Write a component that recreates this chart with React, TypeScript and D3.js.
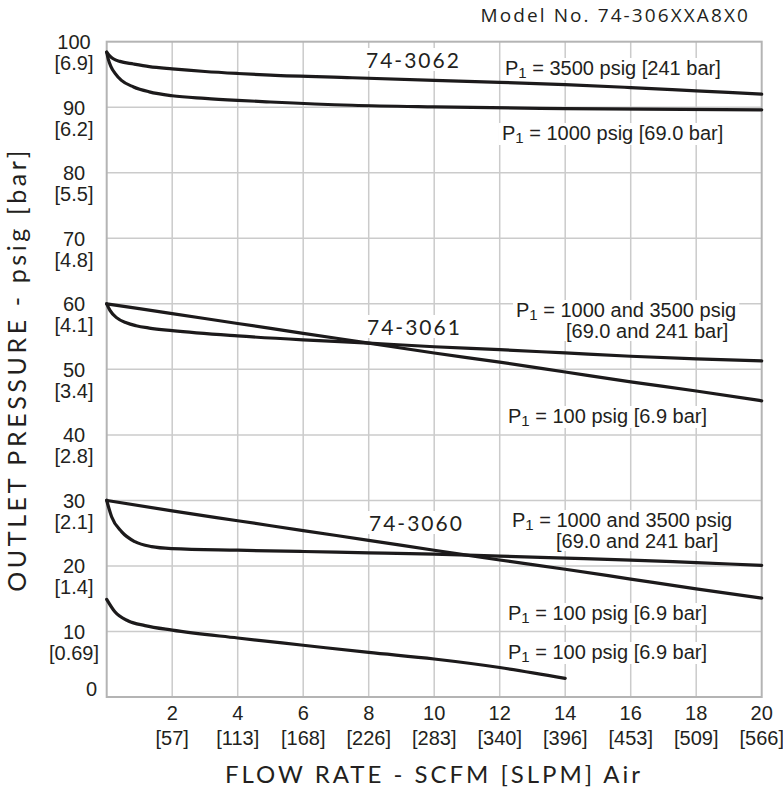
import React, { useEffect, useRef } from "react";
import * as d3 from "d3";

const W = 783;
const H = 799;

const xTicks = [2, 4, 6, 8, 10, 12, 14, 16, 18, 20];
const xTickSlpm = ["[57]", "[113]", "[168]", "[226]", "[283]", "[340]", "[396]", "[453]", "[509]", "[566]"];
const yTicks = [10, 20, 30, 40, 50, 60, 70, 80, 90, 100];
const yTickBar = ["[0.69]", "[1.4]", "[2.1]", "[2.8]", "[3.4]", "[4.1]", "[4.8]", "[5.5]", "[6.2]", "[6.9]"];

// 74-3062
const m3062P3500X = [0, 0.1, 0.2, 0.4, 0.82, 1.3, 2, 3, 4, 5, 7.5, 10, 12, 14, 16, 18, 20];
const m3062P3500Y = [98.4, 97.8, 97.4, 97.0, 96.6, 96.2, 95.85, 95.45, 95.15, 94.9, 94.5, 94.1, 93.8, 93.45, 93.0, 92.5, 92.0];
const m3062P1000X = [0, 0.05, 0.13, 0.25, 0.45, 0.82, 1.3, 2, 3, 4, 5, 7.5, 10, 14, 20];
const m3062P1000Y = [98.4, 97.3, 96.2, 95.2, 94.1, 93.1, 92.35, 91.75, 91.35, 91.05, 90.8, 90.3, 90.05, 89.8, 89.6];

// 74-3061
const m3061HighX = [0, 0.1, 0.3, 0.6, 0.9, 1.3, 2, 4, 6, 8, 10, 12, 14, 16, 18, 20];
const m3061HighY = [60, 59, 57.9, 57.1, 56.65, 56.3, 55.9, 55.1, 54.5, 54.0, 53.45, 53.0, 52.5, 52.0, 51.6, 51.3];
const m3061LowX = [0, 2, 4, 6, 8, 10, 12, 14, 16, 18, 20];
const m3061LowY = [60, 58.5, 57.0, 55.5, 54.0, 52.5, 51.1, 49.6, 48.1, 46.7, 45.2];

// 74-3060
const m3060HighX = [0, 0.15, 0.46, 0.86, 1.37, 2, 4, 6, 8, 10, 12, 14, 16, 18, 20];
const m3060HighY = [30, 27.5, 25.2, 23.7, 22.95, 22.65, 22.4, 22.2, 22.0, 21.8, 21.5, 21.2, 20.9, 20.5, 20.1];
const m3060LowX = [0, 2, 4, 6, 8, 10, 12, 14, 16, 18, 20];
const m3060LowY = [30, 28.4, 26.9, 25.4, 23.9, 22.4, 20.9, 19.5, 18.0, 16.5, 15.1];
const m3060BottomX = [0, 0.25, 0.66, 1.17, 2, 4, 6, 8, 10, 12, 14];
const m3060BottomY = [14.9, 13.0, 11.6, 10.9, 10.2, 9.0, 7.9, 6.8, 5.8, 4.5, 2.85];

const seriesX = [m3062P3500X, m3062P1000X, m3061HighX, m3061LowX, m3060HighX, m3060LowX, m3060BottomX];
const seriesY = [m3062P3500Y, m3062P1000Y, m3061HighY, m3061LowY, m3060HighY, m3060LowY, m3060BottomY];

const p1Labels: [string, number, number][] = [
  [" = 3500 psig [241 bar]", 505, 75],
  [" = 1000 psig [69.0 bar]", 502, 140],
  [" = 1000 and 3500 psig", 516, 317],
  [" = 100 psig [6.9 bar]", 508, 423],
  [" = 1000 and 3500 psig", 512, 527],
  [" = 100 psig [6.9 bar]", 508, 620],
  [" = 100 psig [6.9 bar]", 508, 659],
];
const barLabels: [string, number, number][] = [
  ["[69.0 and 241 bar]", 566, 338],
  ["[69.0 and 241 bar]", 556, 548],
];
const modelLabels: [string, number, number][] = [
  ["74-3062", 366, 68],
  ["74-3061", 367, 335],
  ["74-3060", 369, 531],
];

export default function App() {
  const ref = useRef<SVGSVGElement | null>(null);

  useEffect(() => {
    const svg = d3.select(ref.current);
    svg.selectAll("*").remove();

    const x = d3.scaleLinear().domain([0, 20]).range([106.7, 761.7]);
    const y = d3.scaleLinear().domain([0, 100]).range([697, 41.7]);

    const grid = svg.append("g");
    grid
      .selectAll("line.v")
      .data(xTicks.slice(0, -1))
      .join("line")
      .attr("x1", (d) => x(d))
      .attr("x2", (d) => x(d))
      .attr("y1", y(100))
      .attr("y2", y(0))
      .attr("stroke", "#cbcbcb")
      .attr("stroke-width", 1.5);
    grid
      .selectAll("line.h")
      .data(yTicks.slice(0, -1))
      .join("line")
      .attr("x1", x(0))
      .attr("x2", x(20))
      .attr("y1", (d) => y(d))
      .attr("y2", (d) => y(d))
      .attr("stroke", "#cbcbcb")
      .attr("stroke-width", 1.5);
    svg
      .append("rect")
      .attr("x", x(0))
      .attr("y", y(100))
      .attr("width", x(20) - x(0))
      .attr("height", y(0) - y(100))
      .attr("fill", "none")
      .attr("stroke", "#b4b4b4")
      .attr("stroke-width", 2);

    const labelFont = "'Liberation Sans', Arial, sans-serif";
    const titleFont = "Lato, 'Open Sans', sans-serif";

    const yl = svg.append("g").attr("font-family", labelFont).attr("font-size", 20).attr("fill", "#231f20").attr("text-anchor", "middle");
    yTicks.forEach((t, i) => {
      yl.append("text").attr("x", 74).attr("y", y(t) + 7.5).text(String(t));
      yl.append("text").attr("x", 74).attr("y", y(t) + 28.5).text(yTickBar[i]);
    });
    const xl = svg.append("g").attr("font-family", labelFont).attr("font-size", 20).attr("fill", "#231f20").attr("text-anchor", "middle");
    xl.append("text").attr("x", 91.5).attr("y", 696).text("0");
    xTicks.forEach((t, i) => {
      xl.append("text").attr("x", x(t)).attr("y", 720).text(String(t));
      xl.append("text").attr("x", x(t)).attr("y", 745).text(xTickSlpm[i]);
    });

    svg
      .append("text")
      .attr("x", 434)
      .attr("y", 783)
      .attr("text-anchor", "middle")
      .attr("font-family", titleFont)
      .attr("font-size", 24)
      .attr("letter-spacing", 3)
      .attr("fill", "#231f20")
      .text("FLOW RATE - SCFM [SLPM] Air");
    svg
      .append("text")
      .attr("transform", `translate(26,${(y(0) + y(100)) / 2}) rotate(-90)`)
      .attr("text-anchor", "middle")
      .attr("font-family", titleFont)
      .attr("font-size", 25)
      .attr("letter-spacing", 3.6)
      .attr("fill", "#231f20")
      .text("OUTLET PRESSURE - psig [bar]");
    svg
      .append("text")
      .attr("x", 750)
      .attr("y", 22)
      .attr("text-anchor", "end")
      .attr("font-family", "'Open Sans', sans-serif")
      .attr("font-size", 19)
      .attr("letter-spacing", 2.1)
      .attr("fill", "#231f20")
      .text("Model No. 74-306XXA8X0");

    const bgLayer = svg.append("g");
    const txtLayer = svg.append("g").attr("fill", "#231f20");
    const nodes: SVGTextElement[] = [];
    p1Labels.forEach(([rest, lx, ly]) => {
      const t = txtLayer.append("text").attr("x", lx).attr("y", ly).attr("font-family", labelFont).attr("font-size", 20);
      t.append("tspan").text("P");
      t.append("tspan").attr("font-size", 15).attr("dy", 3).text("1");
      t.append("tspan").attr("dy", -3).text(rest);
      nodes.push(t.node() as SVGTextElement);
    });
    barLabels.forEach(([s, lx, ly]) => {
      const t = txtLayer.append("text").attr("x", lx).attr("y", ly).attr("font-family", labelFont).attr("font-size", 20).text(s);
      nodes.push(t.node() as SVGTextElement);
    });
    modelLabels.forEach(([s, lx, ly]) => {
      const t = txtLayer
        .append("text")
        .attr("x", lx)
        .attr("y", ly)
        .attr("font-family", titleFont)
        .attr("font-size", 21)
        .attr("letter-spacing", 2)
        .text(s);
      nodes.push(t.node() as SVGTextElement);
    });
    nodes.forEach((n) => {
      const b = n.getBBox();
      bgLayer
        .append("rect")
        .attr("x", b.x - 3)
        .attr("y", b.y + 1)
        .attr("width", b.width + 6)
        .attr("height", b.height - 2)
        .attr("fill", "#fff");
    });

    const line = d3
      .line<[number, number]>()
      .x((d) => x(d[0]))
      .y((d) => y(d[1]))
      .curve(d3.curveMonotoneX);
    const cl = svg.append("g");
    seriesX.forEach((xs, i) => {
      const pts = xs.map((v, j) => [v, seriesY[i][j]] as [number, number]);
      cl.append("path")
        .attr("d", line(pts))
        .attr("fill", "none")
        .attr("stroke", "#1c1a1b")
        .attr("stroke-width", 3.2)
        .attr("stroke-linecap", "round");
    });
  }, []);

  return (
    <svg ref={ref} width={W} height={H} style={{ display: "block", position: "absolute", left: 0, top: 0, background: "#fff" }} />
  );
}
